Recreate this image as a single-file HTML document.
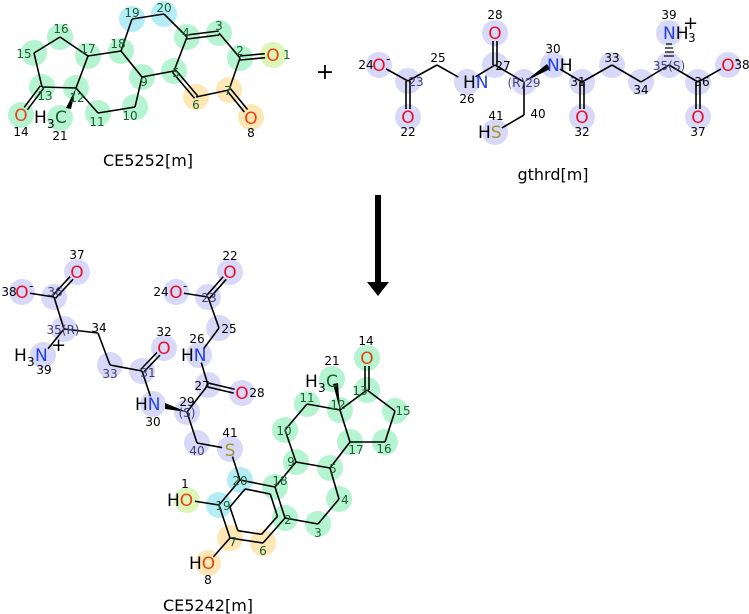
<!DOCTYPE html>
<html><head><meta charset="utf-8"><style>
html,body{margin:0;padding:0;background:#fff;}
svg{display:block;font-family:"DejaVu Sans","Liberation Sans",sans-serif;}
.n{font-size:12px;fill:#000;}
.a{font-size:17px;}
.O{fill:#e8102a;}
.Ob{fill:#e84010;}
.N{fill:#2040f0;}
.S{fill:#a09830;}
.k{fill:#000;}
.g{fill:#1a6030;font-size:12px;}
.p{fill:#404070;font-size:12px;}
.t{font-size:16px;fill:#000;}
</style></head><body>
<svg id="s" width="749" height="614" viewBox="0 0 749 614" xmlns="http://www.w3.org/2000/svg">
<g id="circ"></g>
<g id="bonds" stroke="#000" stroke-width="1.6" fill="none"></g>
<g id="top"></g>
<!-- wedges -->
<polygon points="76,88 66,108 71,109" fill="#000"/>
<polygon points="524,82 547,64 550,69" fill="#000"/>
<polygon points="340,410 333,384 338,383" fill="#000"/>
<polygon points="187,412 165,403 165,409" fill="#000"/>
<g stroke="#000" stroke-width="1.2">
<line x1="666" y1="44" x2="672" y2="44"/><line x1="665" y1="48" x2="673" y2="48"/><line x1="665" y1="52" x2="674" y2="52"/><line x1="664" y1="56" x2="674" y2="56"/>
</g>
<!-- plus & arrow -->
<text x="325" y="79" text-anchor="middle" font-size="22" fill="#000">+</text>
<rect x="375" y="195" width="6" height="88" fill="#000"/>
<polygon points="367,282 389,282 378,296" fill="#000"/>
<!-- CE5252 labels -->
<g>
<text x="273" y="61" class="a Ob" text-anchor="middle">O</text><text x="283" y="59" class="g">1</text>
<text x="251" y="124" class="a Ob" text-anchor="middle">O</text><text x="251" y="137" class="n" text-anchor="middle">8</text>
<text x="21" y="121" class="a Ob" text-anchor="middle">O</text><text x="21" y="136" class="n" text-anchor="middle">14</text>
<text x="34" y="123" class="a k">H</text><text x="47" y="128" class="n" font-size="13">3</text><text x="55" y="123" class="a k" style="fill:#1a6030">C</text>
<text x="60" y="140" class="n" text-anchor="middle">21</text>
<text x="61" y="33" class="g" text-anchor="middle">16</text>
<text x="24" y="58" class="g" text-anchor="middle">15</text>
<text x="88" y="53" class="g" text-anchor="middle">17</text>
<text x="118" y="48" class="g" text-anchor="middle">18</text>
<text x="132" y="17" class="g" text-anchor="middle">19</text>
<text x="164" y="12" class="g" text-anchor="middle">20</text>
<text x="186" y="37" class="g" text-anchor="middle">4</text>
<text x="219" y="30" class="g" text-anchor="middle">3</text>
<text x="240" y="55" class="g" text-anchor="middle">2</text>
<text x="228" y="95" class="g" text-anchor="middle">7</text>
<text x="196" y="109" class="g" text-anchor="middle">6</text>
<text x="176" y="77" class="g" text-anchor="middle">5</text>
<text x="144" y="86" class="g" text-anchor="middle">9</text>
<text x="130" y="120" class="g" text-anchor="middle">10</text>
<text x="97" y="126" class="g" text-anchor="middle">11</text>
<text x="45" y="100" class="g" text-anchor="middle">13</text>
<text x="77" y="102" class="g" text-anchor="middle">12</text>
<text x="148" y="166" class="t" text-anchor="middle">CE5252[m]</text>
</g>
<!-- gthrd labels -->
<g>
<text x="379" y="71" class="a O" text-anchor="middle">O</text><text x="386" y="63" class="n">-</text><text x="366" y="69" class="n" text-anchor="middle">24</text>
<text x="416" y="86" class="p" text-anchor="middle">23</text>
<text x="408" y="123" class="a O" text-anchor="middle">O</text><text x="408" y="136" class="n" text-anchor="middle">22</text>
<text x="438" y="62" class="n" text-anchor="middle">25</text>
<text x="463" y="88" class="a"><tspan class="k">H</tspan><tspan class="N">N</tspan></text><text x="467" y="103" class="n" text-anchor="middle">26</text>
<text x="503" y="70" class="n" text-anchor="middle">27</text>
<text x="495" y="39" class="a O" text-anchor="middle">O</text><text x="495" y="19" class="n" text-anchor="middle">28</text>
<text x="524" y="87" class="p" text-anchor="middle">(R)29</text>
<text x="547" y="71" class="a"><tspan class="N">N</tspan><tspan class="k">H</tspan></text><text x="553" y="53" class="n" text-anchor="middle">30</text>
<text x="578" y="86" class="n" text-anchor="middle">31</text>
<text x="582" y="123" class="a O" text-anchor="middle">O</text><text x="582" y="136" class="n" text-anchor="middle">32</text>
<text x="612" y="62" class="n" text-anchor="middle">33</text>
<text x="641" y="94" class="n" text-anchor="middle">34</text>
<text x="669" y="70" class="p" text-anchor="middle">35(S)</text>
<text x="663" y="39" class="a"><tspan class="N">N</tspan><tspan class="k">H</tspan></text><text x="688" y="42" class="n" font-size="13">3</text><text x="683" y="29" font-size="18" fill="#000">+</text><text x="669" y="19" class="n" text-anchor="middle">39</text>
<text x="702" y="86" class="n" text-anchor="middle">36</text>
<text x="728" y="71" class="a O" text-anchor="middle">O</text><text x="735" y="63" class="n">-</text><text x="742" y="69" class="n" text-anchor="middle">38</text>
<text x="698" y="123" class="a O" text-anchor="middle">O</text><text x="698" y="136" class="n" text-anchor="middle">37</text>
<text x="538" y="118" class="n" text-anchor="middle">40</text>
<text x="478" y="138" class="a"><tspan class="k">H</tspan><tspan class="S">S</tspan></text><text x="496" y="120" class="n" text-anchor="middle">41</text>
<text x="553" y="180" class="t" text-anchor="middle">gthrd[m]</text>
</g>
<!-- CE5242 labels -->
<g>
<text x="22" y="298" class="a O" text-anchor="middle">O</text><text x="29" y="290" class="n">-</text><text x="9" y="296" class="n" text-anchor="middle">38</text>
<text x="55" y="296" class="p" text-anchor="middle">36</text>
<text x="77" y="278" class="a O" text-anchor="middle">O</text><text x="77" y="259" class="n" text-anchor="middle">37</text>
<text x="63" y="334" class="p" text-anchor="middle">35(R)</text>
<text x="14" y="361" class="a"><tspan class="k">H</tspan></text><text x="27" y="366" class="n" font-size="13">3</text><text x="35" y="361" class="a N">N</text><text x="51" y="351" font-size="18" fill="#000">+</text>
<text x="44" y="374" class="n" text-anchor="middle">39</text>
<text x="99" y="332" class="n" text-anchor="middle">34</text>
<text x="110" y="378" class="p" text-anchor="middle">33</text>
<text x="148" y="377" class="p" text-anchor="middle">31</text>
<text x="164" y="354" class="a O" text-anchor="middle">O</text><text x="164" y="336" class="n" text-anchor="middle">32</text>
<text x="135" y="410" class="a"><tspan class="k">H</tspan><tspan class="N">N</tspan></text><text x="153" y="426" class="n" text-anchor="middle">30</text>
<text x="187" y="417" class="p" text-anchor="middle">(S)</text><text x="187" y="406" class="n" text-anchor="middle">29</text>
<text x="202" y="390" class="n" text-anchor="middle">27</text>
<text x="242" y="399" class="a O" text-anchor="middle">O</text><text x="257" y="397" class="n" text-anchor="middle">28</text>
<text x="181" y="361" class="a"><tspan class="k">H</tspan><tspan class="N">N</tspan></text><text x="197" y="343" class="n" text-anchor="middle">26</text>
<text x="229" y="333" class="n" text-anchor="middle">25</text>
<text x="209" y="302" class="p" text-anchor="middle">23</text>
<text x="230" y="278" class="a O" text-anchor="middle">O</text><text x="230" y="260" class="n" text-anchor="middle">22</text>
<text x="176" y="298" class="a O" text-anchor="middle">O</text><text x="183" y="290" class="n">-</text><text x="161" y="296" class="n" text-anchor="middle">24</text>
<text x="197" y="455" class="p" text-anchor="middle">40</text>
<text x="230" y="456" class="a S" text-anchor="middle">S</text><text x="230" y="437" class="n" text-anchor="middle">41</text>
<text x="240" y="485" class="g" text-anchor="middle">20</text>
<text x="280" y="485" class="g" text-anchor="middle">18</text>
<text x="223" y="510" class="g" text-anchor="middle">19</text>
<text x="167" y="506" class="a"><tspan class="k">H</tspan><tspan class="Ob">O</tspan></text><text x="185" y="488" class="n" text-anchor="middle">1</text>
<text x="233" y="546" class="g" text-anchor="middle">7</text>
<text x="189" y="569" class="a"><tspan class="k">H</tspan><tspan class="Ob">O</tspan></text><text x="208" y="584" class="n" text-anchor="middle">8</text>
<text x="263" y="555" class="g" text-anchor="middle">6</text>
<text x="288" y="524" class="g" text-anchor="middle">2</text>
<text x="318" y="537" class="g" text-anchor="middle">3</text>
<text x="345" y="504" class="g" text-anchor="middle">4</text>
<text x="333" y="473" class="g" text-anchor="middle">5</text>
<text x="291" y="466" class="g" text-anchor="middle">9</text>
<text x="284" y="435" class="g" text-anchor="middle">10</text>
<text x="307" y="402" class="g" text-anchor="middle">11</text>
<text x="338" y="409" class="g" text-anchor="middle">12</text>
<text x="305" y="387" class="a k">H</text><text x="318" y="392" class="n" font-size="13">3</text><text x="326" y="387" class="a" style="fill:#1a6030">C</text>
<text x="332" y="365" class="n" text-anchor="middle">21</text>
<text x="360" y="395" class="g" text-anchor="middle">13</text>
<text x="367" y="364" class="a Ob" text-anchor="middle">O</text><text x="366" y="345" class="n" text-anchor="middle">14</text>
<text x="403" y="415" class="g" text-anchor="middle">15</text>
<text x="384" y="453" class="g" text-anchor="middle">16</text>
<text x="356" y="454" class="g" text-anchor="middle">17</text>
<text x="208" y="611" class="t" text-anchor="middle">CE5242[m]</text>
</g>
</svg>
<script>
(function(){
var NS="http://www.w3.org/2000/svg";
var G="#b4f4d0",B="#b4ecf8",Y="#fde7b4",L="#dcf6b8",P="#d8d8f8";
var circ=document.getElementById("circ"),bonds=document.getElementById("bonds");
function c(x,y,col){var e=document.createElementNS(NS,"circle");e.setAttribute("cx",x);e.setAttribute("cy",y);e.setAttribute("r",13);e.setAttribute("fill",col);circ.appendChild(e);}
function l(a,b,dbl,sa,sb){var x1=a[0],y1=a[1],x2=b[0],y2=b[1];var dx=x2-x1,dy=y2-y1,d=Math.hypot(dx,dy);
 sa=sa||0;sb=sb||0;var ux=dx/d,uy=dy/d;x1+=ux*sa;y1+=uy*sa;x2-=ux*sb;y2-=uy*sb;
 function ln(o){var e=document.createElementNS(NS,"line");e.setAttribute("x1",x1-uy*o);e.setAttribute("y1",y1+ux*o);e.setAttribute("x2",x2-uy*o);e.setAttribute("y2",y2+ux*o);bonds.appendChild(e);}
 if(dbl){ln(-2);ln(2);}else ln(0);}
// CE5252
var A={16:[60,37],15:[34,53],13:[42,87],12:[76,88],17:[88,56],18:[121,51],19:[132,19],20:[164,14],4:[187,37],3:[219,33],2:[240,58],1:[273,55],7:[229,90],8:[251,117],6:[196,97],5:[174,71],9:[142,77],10:[135,107],11:[98,113],14:[21,115],21:[60,118]};
[[16,G],[15,G],[13,G],[12,G],[17,G],[18,G],[19,B],[20,B],[4,G],[3,G],[2,G],[1,L],[7,Y],[8,Y],[6,Y],[5,G],[9,G],[10,G],[11,G],[14,G],[21,G]].forEach(function(p){c(A[p[0]][0],A[p[0]][1],p[1]);});
[[16,15],[15,13],[13,12],[12,17],[17,16],[12,11],[11,10],[10,9],[9,18],[18,17],[18,19],[19,20],[20,4],[3,2],[2,7],[7,6],[5,4],[5,9]].forEach(function(b){l(A[b[0]],A[b[1]]);});
l(A[13],A[14],1,0,8);l(A[2],A[1],1,0,8);l(A[7],A[8],1,0,8);l(A[4],A[3],1);l(A[6],A[5],1);
// gthrd
var T={24:[379,65],23:[408,81],22:[408,117],25:[437,65],26:[467,82],27:[495,65],28:[495,33],29:[524,82],30:[553,65],31:[582,82],32:[582,117],33:[612,65],34:[641,82],35:[669,65],39:[669,33],36:[698,82],38:[728,65],37:[698,117],40:[524,115],41:[495,132]};
for(var k in T){if(k!=25&&k!=40)c(T[k][0],T[k][1],P);}
[[24,23,0,8,0],[23,25],[25,26,0,0,10],[26,27,0,10,0],[27,29],[30,31,0,8,0],[31,33],[33,34],[34,35],[35,36],[36,38,0,0,8],[29,40],[40,41,0,0,8]].forEach(function(b){l(T[b[0]],T[b[1]],b[2],b[3],b[4]);});
l(T[23],T[22],1,0,8);l(T[27],T[28],1,0,8);l(T[31],T[32],1,0,8);l(T[36],T[37],1,0,8);
// CE5242
var C={38:[22,292],36:[54,297],37:[77,272],35:[64,329],39:[43,355],34:[98,333],33:[110,365],31:[142,371],32:[164,348],30:[153,404],29:[187,412],27:[208,385],28:[242,393],26:[199,355],25:[219,328],23:[208,297],22:[230,272],24:[176,292],40:[197,443],41:[230,449]};
for(var k in C){if(k!=34)c(C[k][0],C[k][1],P);}
var R={20:[240,480],18:[275,487],19:[219,505],1:[187,500],7:[230,538],8:[208,563],6:[263,543],2:[285,518],3:[318,524],4:[339,499],5:[330,468],9:[296,462],10:[285,430],11:[307,404],12:[340,410],21:[332,379],13:[367,390],14:[367,358],15:[395,411],16:[385,442],17:[350,442]};
[[20,B],[18,G],[19,B],[1,L],[7,Y],[8,Y],[6,Y],[2,G],[3,G],[4,G],[5,G],[9,G],[10,G],[11,G],[12,G],[21,G],[13,G],[14,G],[15,G],[16,G],[17,G]].forEach(function(p){c(R[p[0]][0],R[p[0]][1],p[1]);});
[[38,36,0,8,0],[36,35],[35,39,0,0,8],[35,34],[34,33],[33,31],[31,30,0,0,8],[29,27],[27,26,0,0,8],[26,25,0,8,0],[25,23],[23,24,0,0,8],[29,40],[40,41,0,0,8]].forEach(function(b){l(C[b[0]],C[b[1]],b[2],b[3],b[4]);});
l(C[36],C[37],1,0,8);l(C[31],C[32],1,0,8);l(C[27],C[28],1,0,8);l(C[23],C[22],1,0,8);
l(C[41],R[20],0,8,0);
[[20,18],[18,2],[2,6],[6,7],[7,19],[19,20],[19,1,0,0,8],[7,8,0,0,8],[18,9],[9,10],[10,11],[11,12],[12,13],[13,15],[15,16],[16,17],[17,12],[17,5],[5,9],[5,4],[4,3],[3,2]].forEach(function(b){l(R[b[0]],R[b[1]],b[2],b[3],b[4]);});
l(R[13],R[14],1,0,8);
// inner aromatic ring
var cx=258,cy=512,ring=[20,18,2,6,7,19];
for(var i=0;i<6;i++){var a=R[ring[i]],b=R[ring[(i+1)%6]];var f=0.72;
 l([cx+(a[0]-cx)*f,cy+(a[1]-cy)*f],[cx+(b[0]-cx)*f,cy+(b[1]-cy)*f]);}
})();
</script>
</body></html>
